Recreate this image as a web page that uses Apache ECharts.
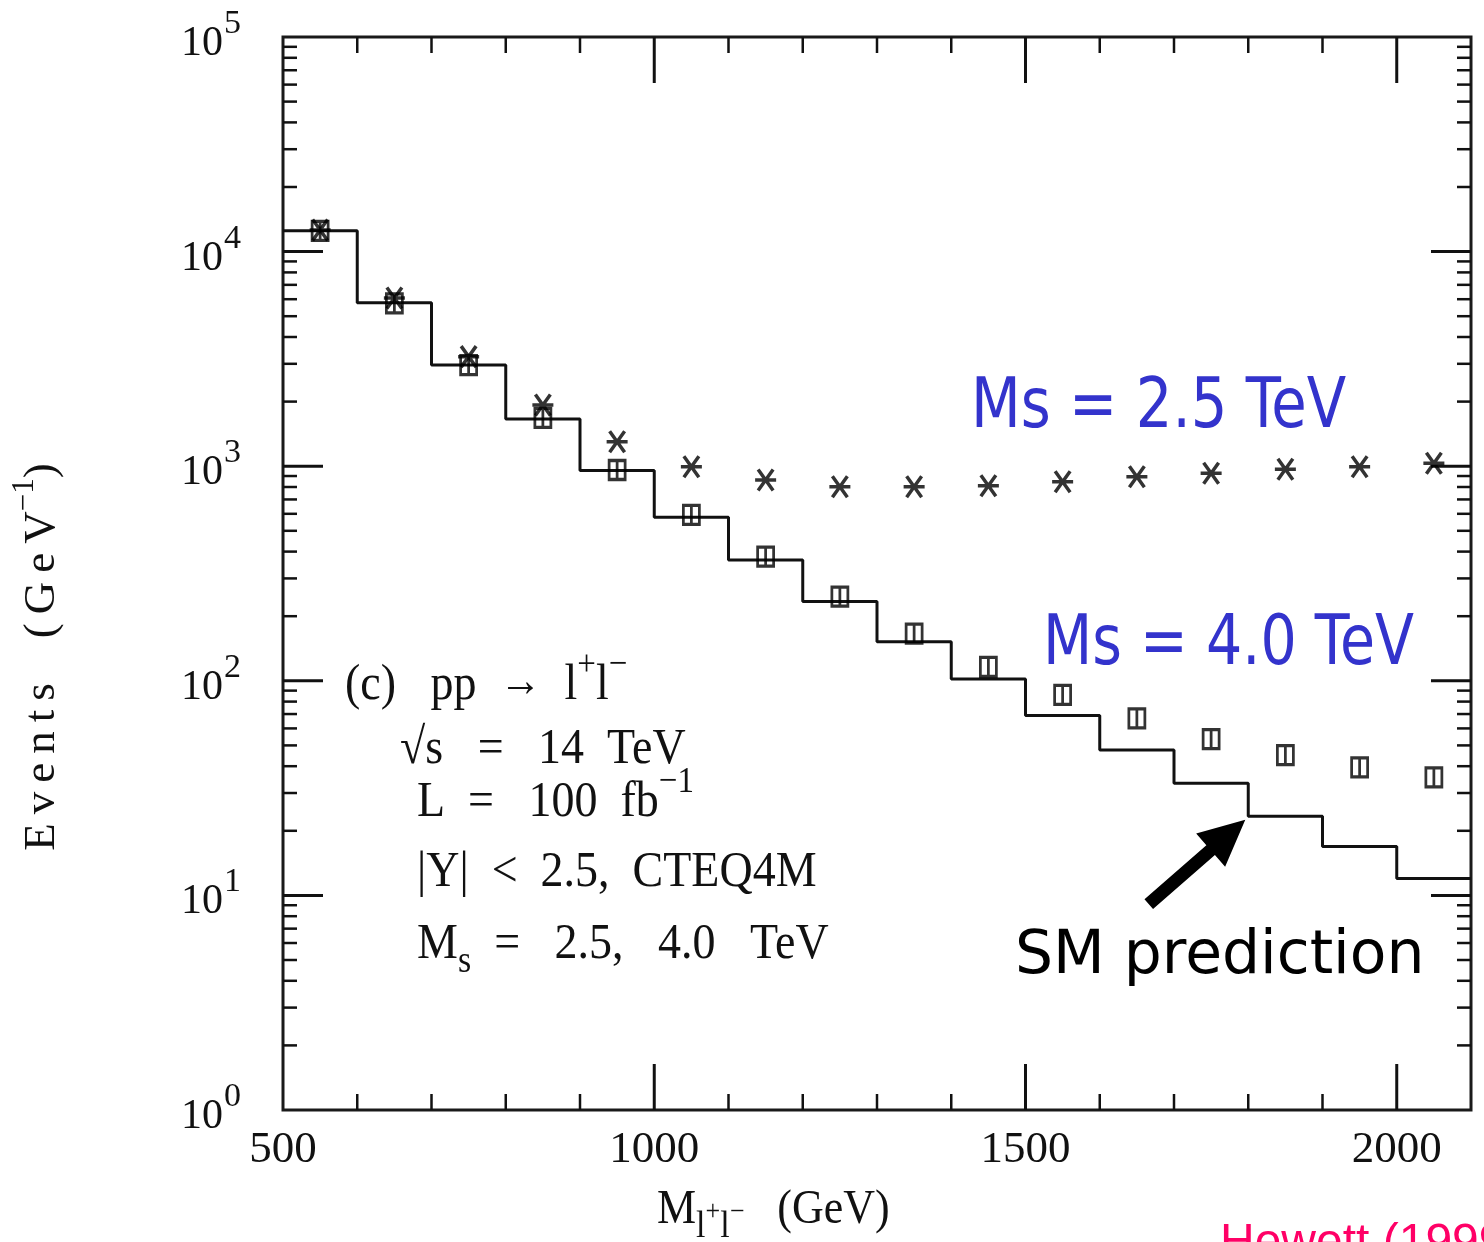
<!DOCTYPE html>
<html>
<head>
<meta charset="utf-8">
<script src="https://cdn.jsdelivr.net/npm/echarts@6/dist/echarts.min.js"></script>
<style>
html,body{margin:0;padding:0;background:#ffffff;}
#chart{width:1484px;height:1242px;}
</style>
</head>
<body>
<div id="chart"></div>
<script>
// ---------------- data ----------------
const binEdges = [500,600,700,800,900,1000,1100,1200,1300,1400,1500,1600,1700,1800,1900,2000,2100];
const binCenters = [550,650,750,850,950,1050,1150,1250,1350,1450,1550,1650,1750,1850,1950,2050];
// SM prediction (histogram, events per GeV)
const smPrediction = [12500,5780,2960,1660,955,578,366,234,152,102,68.9,47.6,33.3,23.4,16.9,12.0];
// Ms = 4.0 TeV (squares)
const ms40Values = [12500,5740,2960,1680,960,593,379,247,166,116,85.9,66.9,53.5,45.1,39.5,35.5];
// Ms = 2.5 TeV (crosses)
const ms25Values = [12600,6080,3240,1930,1300,995,863,802,802,811,847,894,927,968,995,1032];
// axis ticks
const xTickLabels = [500,1000,1500,2000];
const xMajorTicks = [1000,1500,2000];
const xMinorTicks = [600,700,800,900,1100,1200,1300,1400,1600,1700,1800,1900];
const yMajorTicks = [10,100,1000,10000];
const yDecadeStarts = [1,10,100,1000,10000];
const yMinorMultipliers = [2,3,4,5,6,7,8,9];
// arrow annotation (data coordinates)
const arrowFrom = [1666, 9.1];
const arrowTo = [1796, 22.5];

// ---------------- build ----------------
const serif = 'Liberation Serif';
const stepData = binEdges.map((x, i) => [x, smPrediction[Math.min(i, smPrediction.length - 1)]]);
const ms40Data = binCenters.map((x, i) => [x, ms40Values[i]]);
const ms25Data = binCenters.map((x, i) => [x, ms25Values[i]]);

const tickData = [];
xMinorTicks.forEach(v => tickData.push([v, 1, 0]));
xMajorTicks.forEach(v => tickData.push([v, 1, 1]));
yDecadeStarts.forEach(d => yMinorMultipliers.forEach(k => tickData.push([500, k * d, 2])));
yMajorTicks.forEach(v => tickData.push([500, v, 3]));

const annRich = {
  n: {fontSize: 46, fontFamily: serif, fill: '#111', verticalAlign: 'middle'},
  p: {fontSize: 33, fontFamily: serif, fill: '#111', verticalAlign: 'middle', padding: [0, 0, 38, 0]},
  sb: {fontSize: 34, fontFamily: serif, fill: '#111', verticalAlign: 'middle', padding: [30, 0, 0, 0]},
  a: {fontSize: 42, fontFamily: serif, fill: '#111', verticalAlign: 'middle', padding: [0, 0, 4, 0]}
};
function annText(id, x, y, text, sy) {
  return {type: 'text', id: id, x: x, y: y, scaleY: sy, silent: true, z: 10,
    style: {text: text, rich: annRich, fontSize: 46, fontFamily: serif, fill: '#111', align: 'left', verticalAlign: 'middle'}};
}
const T = '\u2009';
const yTitle = 'E'+T+'v'+T+'e'+T+'n'+T+'t'+T+'s    ('+T+'G'+T+'e'+T+'V';

const chart = echarts.init(document.getElementById('chart'), null, {renderer: 'canvas'});
const option = {
  animation: false,
  backgroundColor: '#ffffff',
  grid: {left: 283, right: 13, top: 37, bottom: 132, containLabel: false, outerBoundsMode: 'none',
    show: true, borderColor: '#1a1a1a', borderWidth: 3, backgroundColor: 'transparent'},
  xAxis: {
    type: 'value', min: 500, max: 2100, interval: 500,
    axisLine: {show: false}, axisTick: {show: false}, splitLine: {show: false},
    axisLabel: {margin: 18, fontSize: 45, fontFamily: serif, color: '#111',
      formatter: v => (xTickLabels.indexOf(v) >= 0 ? String(v) : '')}
  },
  yAxis: {
    type: 'log', logBase: 10, min: 1, max: 100000, splitNumber: 5,
    axisLine: {show: false}, axisTick: {show: false}, splitLine: {show: false},
    axisLabel: {margin: 42,
      formatter: v => '{b|10}{s|' + Math.round(Math.log10(v)) + '}',
      rich: {
        b: {fontSize: 42, fontFamily: serif, color: '#111', verticalAlign: 'middle', padding: [14, 0, 0, 0]},
        s: {fontSize: 34, fontFamily: serif, color: '#111', verticalAlign: 'middle', padding: [0, 0, 26, 1]}
      }}
  },
  series: [
    {
      type: 'custom', coordinateSystem: 'cartesian2d', silent: true, clip: false, z: 1,
      dimensions: ['x', 'y', 'kind'], encode: {x: 'x', y: 'y'},
      data: tickData,
      renderItem: function (params, api) {
        const cs = params.coordSys;
        const kind = api.value(2);
        const p = api.coord([api.value(0), api.value(1)]);
        const lw = (kind === 1 || kind === 3) ? 3 : 2.5;
        const left = cs.x, right = cs.x + cs.width, top = cs.y, bottom = cs.y + cs.height;
        if (kind < 2) {
          const L = kind === 1 ? 46 : 16;
          return {type: 'group', children: [
            {type: 'line', shape: {x1: p[0], y1: bottom, x2: p[0], y2: bottom - L}, style: {stroke: '#111', lineWidth: lw}},
            {type: 'line', shape: {x1: p[0], y1: top, x2: p[0], y2: top + L}, style: {stroke: '#111', lineWidth: lw}}
          ]};
        }
        const L = kind === 3 ? 40 : 14;
        return {type: 'group', children: [
          {type: 'line', shape: {x1: left, y1: p[1], x2: left + L, y2: p[1]}, style: {stroke: '#111', lineWidth: lw}},
          {type: 'line', shape: {x1: right, y1: p[1], x2: right - L, y2: p[1]}, style: {stroke: '#111', lineWidth: lw}}
        ]};
      }
    },
    {
      name: 'SM prediction', type: 'line', step: 'end', data: stepData, symbol: 'none', z: 3,
      lineStyle: {color: '#111', width: 3}, silent: true
    },
    {
      name: 'Ms = 4.0 TeV', type: 'scatter', data: ms40Data, z: 4,
      symbol: 'path://M0,0H10V12H0ZM5,0V12', symbolSize: [16, 19],
      itemStyle: {color: 'rgba(0,0,0,0)', borderColor: '#000', borderWidth: 3}
    },
    {
      name: 'Ms = 2.5 TeV', type: 'scatter', data: ms25Data, z: 5,
      symbol: 'path://M2,0L12,14M12,0L2,14M0,7L14,7', symbolSize: [21, 21],
      itemStyle: {color: 'rgba(0,0,0,0)', borderColor: '#000', borderWidth: 3.5}
    }
  ],
  graphic: {elements: [
    annText('l1', 345, 686, '{n|(c)   pp  }{a|→}{n|  l}{p|+}{n|l}{p|−}', 1.11),
    annText('l2', 400, 750, '{n|√s   =   14  TeV}', 1.11),
    annText('l3', 417, 803, '{n|L  =   100  fb}{p|−1}', 1.11),
    annText('l4', 417, 873, '{n||Y|  <  2.5,  CTEQ4M}', 1.11),
    annText('l5', 417, 945, '{n|M}{sb|s}{n|  =   2.5,   4.0   TeV}', 1.11),
    {type: 'text', id: 'ytitle', x: 42, y: 657, rotation: Math.PI / 2, silent: true,
      style: {text: '{n|' + yTitle + '}{p|−1}{n|)}', rich: {
        n: {fontSize: 45, fontFamily: serif, fill: '#111', verticalAlign: 'middle'},
        p: {fontSize: 31, fontFamily: serif, fill: '#111', verticalAlign: 'middle', padding: [0, 0, 34, 0]}
      }, align: 'center', verticalAlign: 'middle'}},
    {type: 'text', id: 'xtitle', x: 657, y: 1210, scaleY: 1.1, silent: true,
      style: {text: '{m|M}{ls|l}{lp|+}{ls|l}{lp|−}{m|   (GeV)}', rich: {
        m: {fontSize: 44, fontFamily: serif, fill: '#111', verticalAlign: 'middle'},
        ls: {fontSize: 34, fontFamily: serif, fill: '#111', verticalAlign: 'middle', padding: [32, 0, 0, 0]},
        lp: {fontSize: 26, fontFamily: serif, fill: '#111', verticalAlign: 'middle', padding: [4, 0, 0, 0]}
      }, align: 'left', verticalAlign: 'middle'}},
    {type: 'text', id: 'ms25', x: 971, y: 409, scaleX: 0.93, scaleY: 1.13, silent: true, z: 10,
      style: {text: 'Ms = 2.5 TeV', fontSize: 62, fontFamily: 'DejaVu Sans', fill: '#3333cc', align: 'left', verticalAlign: 'middle'}},
    {type: 'text', id: 'ms40', x: 1043, y: 646, scaleX: 0.92, scaleY: 1.13, silent: true, z: 10,
      style: {text: 'Ms = 4.0 TeV', fontSize: 62, fontFamily: 'DejaVu Sans', fill: '#3333cc', align: 'left', verticalAlign: 'middle'}},
    {type: 'text', id: 'smtxt', x: 1015, y: 957, scaleX: 1.07, scaleY: 1.08, silent: true, z: 10,
      style: {text: 'SM prediction', fontSize: 56, fontFamily: 'DejaVu Sans', fill: '#000', align: 'left', verticalAlign: 'middle'}},
    {type: 'text', id: 'cite', x: 1220, y: 1244, silent: true, z: 10,
      style: {text: 'Hewett (1999)', fontSize: 48, fontFamily: 'Liberation Sans', fill: '#ff0066', align: 'left', verticalAlign: 'middle'}}
  ]}
};
chart.setOption(option);

// arrow placed through the chart's own scales
const a = chart.convertToPixel({gridIndex: 0}, arrowFrom);
const b = chart.convertToPixel({gridIndex: 0}, arrowTo);
const dx = b[0] - a[0], dy = b[1] - a[1], len = Math.hypot(dx, dy);
const ux = dx / len, uy = dy / len, nx = -uy, ny = ux;
const headLen = 46, headHalf = 22, shaftHalf = 6.5;
const hx = b[0] - ux * headLen, hy = b[1] - uy * headLen;
const arrowPts = [
  [a[0] + nx * shaftHalf, a[1] + ny * shaftHalf],
  [hx + nx * shaftHalf, hy + ny * shaftHalf],
  [hx + nx * headHalf, hy + ny * headHalf],
  [b[0], b[1]],
  [hx - nx * headHalf, hy - ny * headHalf],
  [hx - nx * shaftHalf, hy - ny * shaftHalf],
  [a[0] - nx * shaftHalf, a[1] - ny * shaftHalf]
];
chart.setOption({graphic: {elements: [
  {type: 'polygon', id: 'arrow', silent: true, z: 10, shape: {points: arrowPts}, style: {fill: '#000'}}
]}});
</script>
</body>
</html>
